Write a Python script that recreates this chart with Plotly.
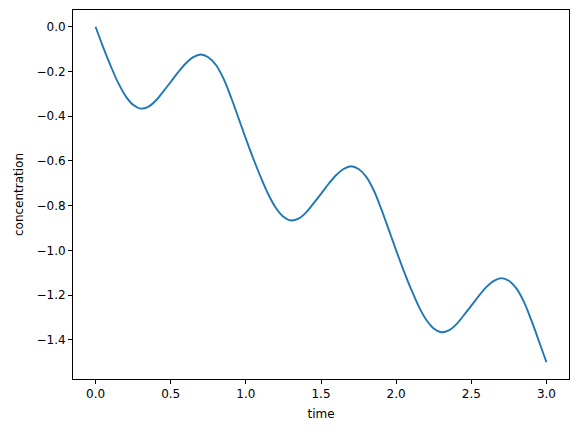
import plotly.graph_objects as go

time = [0.00, 0.05, 0.10, 0.15, 0.20, 0.25, 0.30, 0.35, 0.40, 0.45, 0.50,
        0.55, 0.60, 0.65, 0.70, 0.75, 0.80, 0.85, 0.90, 0.95, 1.00,
        1.05, 1.10, 1.15, 1.20, 1.25, 1.30, 1.35, 1.40, 1.45, 1.50,
        1.55, 1.60, 1.65, 1.70, 1.75, 1.80, 1.85, 1.90, 1.95, 2.00,
        2.05, 2.10, 2.15, 2.20, 2.25, 2.30, 2.35, 2.40, 2.45, 2.50,
        2.55, 2.60, 2.65, 2.70, 2.75, 2.80, 2.85, 2.90, 2.95, 3.00]

concentration = [0.000, -0.090, -0.174, -0.250, -0.310, -0.349, -0.366, -0.358, -0.331, -0.290, -0.247,
                 -0.203, -0.164, -0.136, -0.124, -0.136, -0.170, -0.230, -0.313, -0.406, -0.500,
                 -0.590, -0.674, -0.750, -0.810, -0.849, -0.866, -0.858, -0.831, -0.790, -0.747,
                 -0.703, -0.664, -0.636, -0.624, -0.636, -0.670, -0.730, -0.813, -0.906, -1.000,
                 -1.090, -1.174, -1.250, -1.310, -1.349, -1.366, -1.358, -1.331, -1.290, -1.247,
                 -1.203, -1.164, -1.136, -1.124, -1.136, -1.170, -1.230, -1.313, -1.406, -1.500]

x_ticks = [0.0, 0.5, 1.0, 1.5, 2.0, 2.5, 3.0]
x_labels = ["0.0", "0.5", "1.0", "1.5", "2.0", "2.5", "3.0"]
y_ticks = [0.0, -0.2, -0.4, -0.6, -0.8, -1.0, -1.2, -1.4]
y_labels = ["0.0", "\u22120.2", "\u22120.4", "\u22120.6", "\u22120.8", "\u22121.0", "\u22121.2", "\u22121.4"]

fig = go.Figure()
fig.add_trace(go.Scatter(
    x=time, y=concentration, mode="lines",
    line=dict(color="#1f77b4", width=1.9, shape="spline", smoothing=1.0),
    showlegend=False, hoverinfo="skip",
))

font = dict(family="DejaVu Sans", size=12, color="black")
axis_common = dict(
    showline=True, linecolor="black", linewidth=1, mirror=True,
    ticks="outside", ticklen=4, tickwidth=1, tickcolor="black",
    showgrid=False, zeroline=False, tickfont=font,
)

fig.update_layout(
    width=578, height=432,
    margin=dict(l=65, r=17, t=2, b=61, autoexpand=False),
    paper_bgcolor="white", plot_bgcolor="white",
    font=font,
    xaxis=dict(range=[-0.15, 3.15], tickvals=x_ticks, ticktext=x_labels,
               title=dict(text="time", font=font, standoff=9), **axis_common),
    yaxis=dict(range=[-1.575, 0.075], tickvals=y_ticks, ticktext=y_labels,
               title=dict(text="concentration", font=font, standoff=10), **axis_common),
)

fig.write_html("out.html")
